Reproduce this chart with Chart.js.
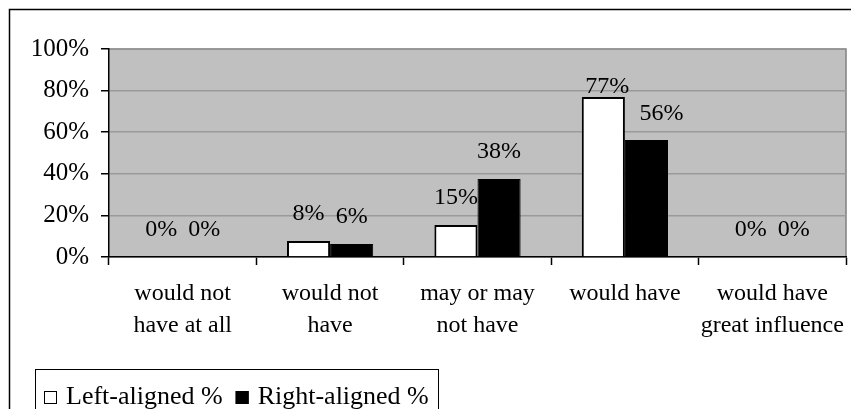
<!DOCTYPE html>
<html>
<head>
<meta charset="utf-8">
<script src="https://cdn.jsdelivr.net/npm/chart.js@4"></script>
<style>
  body { margin: 0; background: #fff; }
  #wrap { width: 851px; height: 409px; position: relative; }
</style>
</head>
<body>
<div id="wrap"><canvas id="myChart" width="851" height="409"></canvas></div>
<script>
const categories = [
    ['would not', 'have at all'],
    ['would not', 'have'],
    ['may or may', 'not have'],
    ['would have'],
    ['would have', 'great influence']
];
const leftAligned = [0, 7.7, 15.4, 76.9, 0];
const rightAligned = [0, 6.25, 37.5, 56.25, 0];
const yTicks = [0, 20, 40, 60, 80, 100];

const serif = '"Liberation Serif", "Times New Roman", serif';

// grey plot background, outer frame and plot border
const framePlugin = {
    id: 'frame',
    beforeDraw(chart) {
        const c = chart.ctx, a = chart.chartArea;
        c.save();
        c.fillStyle = '#c0c0c0';
        c.fillRect(a.left, a.top, a.right - a.left, a.bottom - a.top);
        c.strokeStyle = '#808080';
        c.lineWidth = 1.5;
        c.beginPath();
        c.moveTo(a.left, a.top);
        c.lineTo(a.right, a.top);
        c.lineTo(a.right, a.bottom);
        c.stroke();
        c.strokeStyle = '#000';
        c.lineWidth = 1.5;
        c.strokeRect(9.5, 9.5, 900, 500);
        c.restore();
    }
};

// value labels above bars
const valueLabels = {
    id: 'valueLabels',
    afterDatasetsDraw(chart, args, opts) {
        const c = chart.ctx;
        c.save();
        c.font = '24px ' + serif;
        c.fillStyle = '#000';
        c.textAlign = 'center';
        c.textBaseline = 'middle';
        chart.data.datasets.forEach((ds, i) => {
            chart.getDatasetMeta(i).data.forEach((bar, j) => {
                const o = opts.moved[i + ',' + j] || {};
                const lift = o.lift || 27;
                c.fillText(Math.round(ds.data[j]) + '%', bar.x + (o.dx || 0), bar.y - lift);
            });
        });
        c.restore();
    }
};

// boxed legend at the bottom left
const boxLegend = {
    id: 'boxLegend',
    afterDraw(chart) {
        const c = chart.ctx;
        c.save();
        c.strokeStyle = '#000';
        c.lineWidth = 1;
        c.strokeRect(35.5, 369.5, 403, 60);
        c.font = '26px ' + serif;
        c.textBaseline = 'middle';
        c.fillStyle = '#000';
        let x = 44;
        const y = 397;
        chart.data.datasets.forEach(ds => {
            c.fillStyle = ds.backgroundColor;
            c.fillRect(x, y - 6, 13, 13);
            c.strokeStyle = '#000';
            c.lineWidth = 1;
            c.strokeRect(x + 0.5, y - 5.5, 12, 12);
            c.fillStyle = '#000';
            c.fillText(ds.label, x + 22, y);
            x += 22 + c.measureText(ds.label).width + 13;
        });
        c.restore();
    }
};

const ctx = document.getElementById('myChart');

new Chart(ctx, {
    type: 'bar',
    data: {
        labels: categories,
        datasets: [{
            label: 'Left-aligned %',
            data: leftAligned,
            backgroundColor: '#ffffff',
            borderColor: '#000000',
            borderWidth: 2,
            borderSkipped: 'bottom'
        }, {
            label: 'Right-aligned %',
            data: rightAligned,
            backgroundColor: '#000000',
            borderColor: '#000000',
            borderWidth: 1,
            borderSkipped: 'bottom'
        }]
    },
    plugins: [framePlugin, valueLabels, boxLegend],
    options: {
        responsive: false,
        animation: false,
        layout: { autoPadding: false, padding: { top: 49, right: 5, left: 0, bottom: 0 } },
        datasets: {
            bar: { categoryPercentage: 0.585, barPercentage: 1 }
        },
        plugins: {
            legend: { display: false },
            tooltip: { enabled: false },
            valueLabels: { moved: { '0,3': { lift: 10, dx: 4 }, '1,3': { lift: 26, dx: 15 } } }
        },
        scales: {
            x: {
                afterFit(scale) {
                    scale.height = 152;
                    scale.paddingLeft = 0;
                    scale.paddingRight = 0;
                },
                grid: {
                    offset: true,
                    drawOnChartArea: false,
                    tickLength: 8,
                    tickColor: '#000',
                    tickWidth: 1.5
                },
                border: { color: '#000', width: 1.5 },
                ticks: {
                    color: '#000',
                    maxRotation: 0,
                    autoSkip: false,
                    padding: 13,
                    font: { family: serif, size: 24, lineHeight: 1.33 }
                }
            },
            y: {
                min: 0,
                max: 100,
                afterFit(scale) {
                    scale.width = 109;
                    scale.paddingTop = 0;
                    scale.paddingBottom = 0;
                },
                afterBuildTicks(scale) { scale.ticks = yTicks.map(v => ({ value: v })); },
                grid: {
                    color: '#9a9a9a',
                    lineWidth: 1.5,
                    tickLength: 8,
                    tickColor: '#000',
                    tickWidth: 1.5
                },
                border: { color: '#000', width: 1.5 },
                ticks: {
                    color: '#000',
                    padding: 12,
                    font: { family: serif, size: 25 },
                    callback: v => v + '%'
                }
            }
        }
    }
});
</script>
</body>
</html>
